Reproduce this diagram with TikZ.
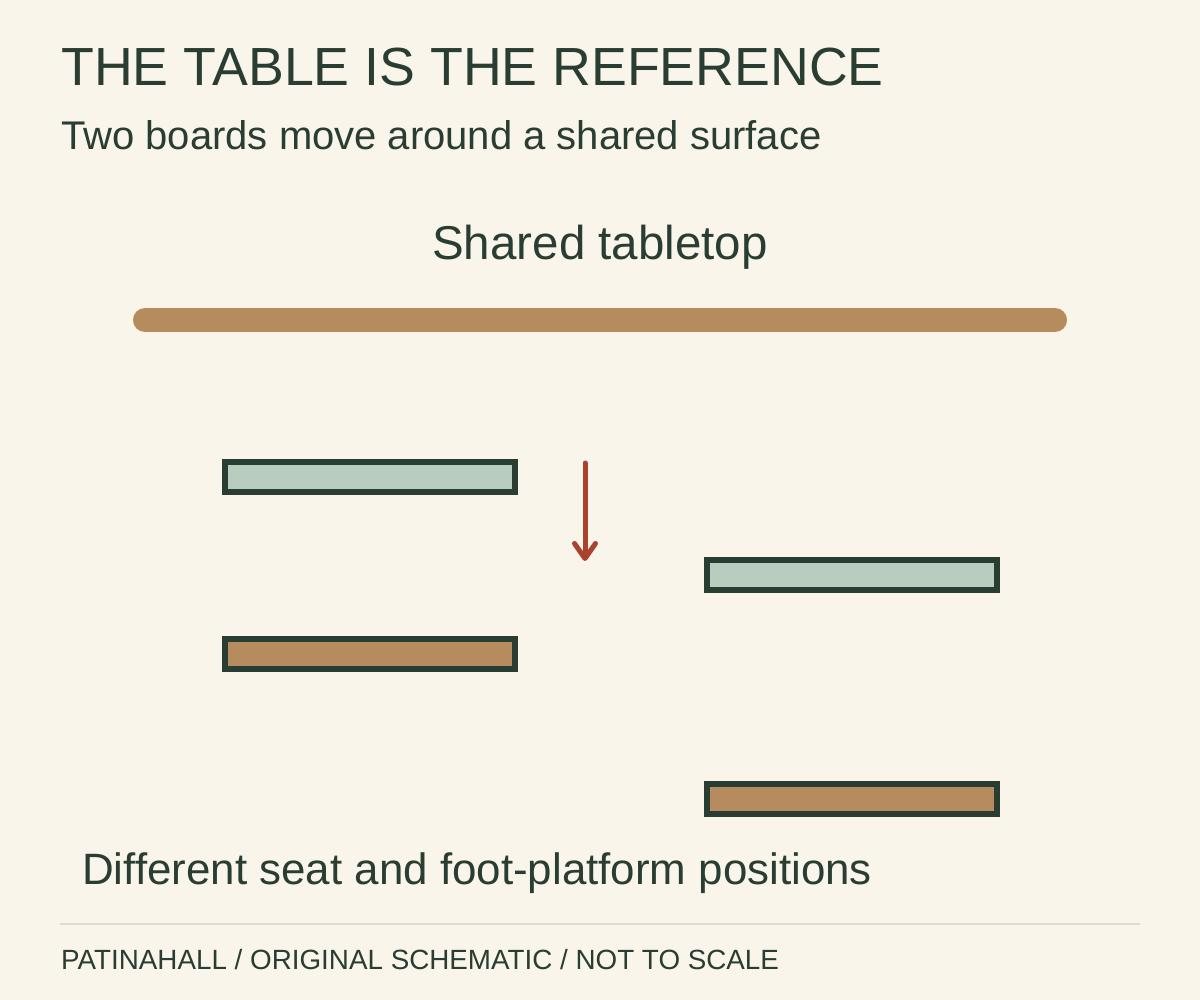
\documentclass[tikz,border=0pt]{standalone}
\usepackage{fontspec}
\usepackage{tikz}
\usepackage{xcolor}
\usetikzlibrary{arrows.meta}
\setmainfont{Liberation Sans}

\begin{document}
\begin{tikzpicture}[x=1pt, y=-1pt,
		label_text/.style={inner sep=0pt, text={ALMOST_BLACK}},
		board/.style={line width=6pt, draw={ALMOST_BLACK}}]
				\definecolor{CREAM}{RGB}{249, 245, 235}
				\definecolor{ALMOST_BLACK}{RGB}{42, 61, 51}
				\definecolor{TAN}{RGB}{182, 139, 94}
				\definecolor{SAGE}{RGB}{184, 205, 189}
				\definecolor{RUST}{RGB}{168, 67, 45}
				\definecolor{LIGHT_GRAY}{RGB}{222, 220, 208}
				% page
				\fill[CREAM] (0, 0) rectangle (1200, 1000);
				\useasboundingbox (0, 0) rectangle (1200, 1000);

				% titles
				\node[label_text, anchor=base west] (title) at (61, 86) {\fontsize{53.7}{60}\selectfont THE TABLE IS THE REFERENCE};
				\node[label_text, anchor=base west] (subtitle) at (61, 150) {\fontsize{40}{44}\selectfont Two boards move around a shared surface};
				\node[label_text, anchor=base] (tabletop_label) at (600, 260) {\fontsize{47.5}{52}\selectfont Shared tabletop};

				% tabletop
				\draw[line width=24pt, color={TAN}, line cap=round] (145, 320) -- (1055, 320);

				% boards, first position
				\draw[board, fill={SAGE}] (225, 462) rectangle (515, 492);
				\draw[board, fill={TAN}] (225, 639) rectangle (515, 669);

				% boards, second position
				\draw[board, fill={SAGE}] (707, 560) rectangle (997, 590);
				\draw[board, fill={TAN}] (707, 784) rectangle (997, 814);

				% shift
				\coordinate (shift_top) at (585, 463);
				\coordinate (shift_bottom) at (585, 561);
				\draw[line width=5pt, color={RUST}, line cap=round, line join=round,
					-{Straight Barb[length=15pt, width=21pt, round]}] (shift_top) -- (shift_bottom);

				% caption and footer
				\node[label_text, anchor=base west] (caption) at (82, 884) {\fontsize{43.9}{50}\selectfont Different seat and foot-platform positions};
				\draw[line width=2pt, color={LIGHT_GRAY}] (60, 924) -- (1140, 924);
				\node[label_text, anchor=base west] (footer) at (61, 969) {\fontsize{27.8}{32}\selectfont PATINAHALL / ORIGINAL SCHEMATIC / NOT TO SCALE};
			\end{tikzpicture}
\end{document}
